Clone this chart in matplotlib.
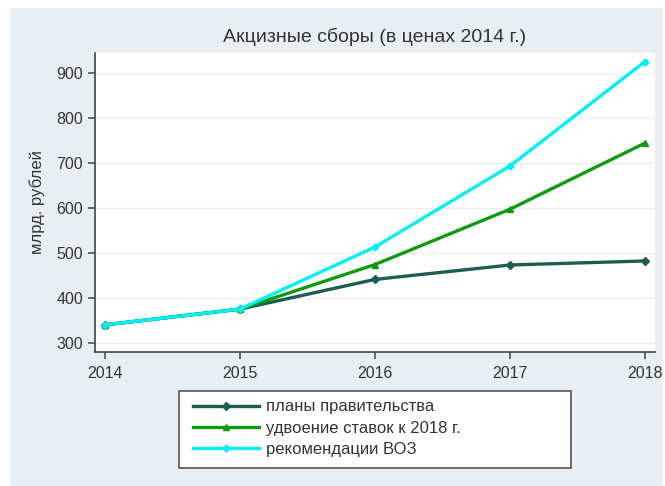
import matplotlib
matplotlib.use("Agg")
import matplotlib.pyplot as plt
from matplotlib.patches import Rectangle

years = [2014, 2015, 2016, 2017, 2018]
gov_plans = [341, 376, 442, 474, 483]
double_rates = [341, 376, 475, 598, 745]
who_recs = [341, 376, 514, 694, 926]
labels = ["планы правительства", "удвоение ставок к 2018 г.", "рекомендации ВОЗ"]
yticks = [300, 400, 500, 600, 700, 800, 900]

plt.rcParams['font.family'] = ['Liberation Sans', 'DejaVu Sans']

W, H = 665, 486
fig = plt.figure(figsize=(W/100, H/100), dpi=100, facecolor='white')
bg = '#e8eff2'
fig.patches.append(Rectangle((10/W, 0), (663-10)/W, (H-8)/H, transform=fig.transFigure,
                             facecolor=bg, edgecolor='none', zorder=-10))

ax = fig.add_axes([95/W, 1-352/H, (655-95)/W, (352-53)/H])
ax.set_facecolor('white')

c_gov = '#1d5c52'
c_dbl = '#109a10'
c_who = '#00f0f5'
ax.plot(years, gov_plans, color=c_gov, lw=2.4, marker='D', ms=4.5, label=labels[0], zorder=3)
ax.plot(years, double_rates, color=c_dbl, lw=2.4, marker='^', ms=4.5, label=labels[1], zorder=4)
ax.plot(years, who_recs, color=c_who, lw=2.4, marker='D', ms=3.5, label=labels[2], zorder=5)

ax.set_xlim(2014 - 10/135, 2018 + 10/135)
ax.set_ylim(300 - 8.7/0.45, 900 + 20.3/0.45)
ax.set_xticks(years)
ax.set_yticks(yticks)
ax.yaxis.grid(True, color='#e6eef0', lw=1)
ax.set_axisbelow(True)
for s in ['top', 'right']:
    ax.spines[s].set_visible(False)
for s in ['left', 'bottom']:
    ax.spines[s].set_color('#444444')
    ax.spines[s].set_linewidth(1.2)
ax.tick_params(axis='both', colors='#444444', labelcolor='#333333', labelsize=11.5,
               length=5, width=1.1, direction='out')
ax.tick_params(axis='x', pad=5)
ax.set_ylabel("млрд. рублей", fontsize=12, color='#333333', labelpad=8)
ax.set_title("Акцизные сборы (в ценах 2014 г.)", fontsize=14, color='#333333', pad=8)

# legend box (Stata-style, fixed width)
fig.patches.append(Rectangle((179/W, 1-468/H), (571-179)/W, (468-391)/H, transform=fig.transFigure,
                             facecolor='white', edgecolor='#555555', lw=1.2, zorder=1))
leg = fig.legend(loc='upper left', bbox_to_anchor=(193/W, 1-399.5/H), ncol=1, frameon=False,
                 fontsize=12, handlelength=3.95, handletextpad=0.45, borderpad=0,
                 labelspacing=0.38, borderaxespad=0)
leg.set_zorder(2)
for t in leg.get_texts():
    t.set_color('#333333')

fig.savefig("out.png", dpi=100, facecolor=fig.get_facecolor())
